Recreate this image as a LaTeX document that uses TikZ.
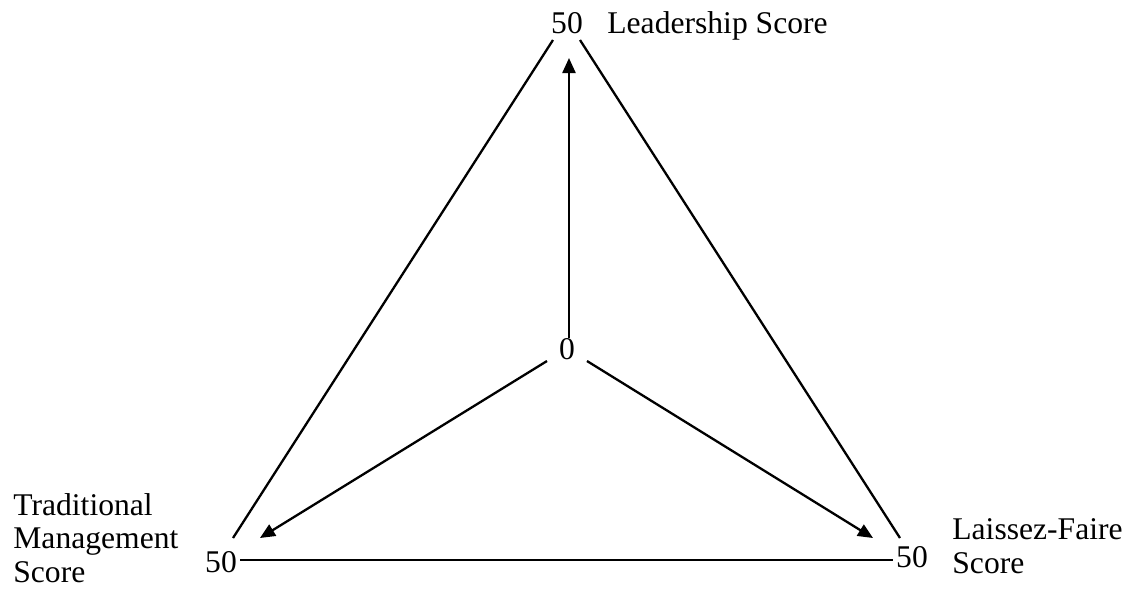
\documentclass[tikz,border=0pt]{standalone}
\usepackage{fontspec}
\setmainfont{Liberation Serif}
\usetikzlibrary{arrows.meta}
\begin{document}
\begin{tikzpicture}[x=0.5pt,y=-0.5pt,
  lbl/.style={inner sep=0pt,font=\fontsize{15.8}{16.6}\selectfont},
  edge/.style={line width=1.15pt},
  arr/.style={line width=1.15pt,-{Triangle[length=7.5pt,width=6.5pt]}}]
\useasboundingbox (0,0) rectangle (1132,590);
% value labels
\node[lbl,anchor=base] (top) at (567,33) {50};
\node[lbl,anchor=base] (ctr) at (567,359) {0};
\node[lbl,anchor=base] (left) at (221,572) {50};
\node[lbl,anchor=base] (right) at (912,567) {50};
% axis titles
\node[lbl,anchor=base west] (lead) at (607,33) {Leadership Score};
\node[lbl,anchor=base west,align=left] (trad) at (13,582) {Traditional\\Management\\Score};
\node[lbl,anchor=base west,align=left] (laf) at (952,573) {Laissez-Faire\\Score};
% triangle end points
\coordinate (tl) at (553,40);
\coordinate (tr) at (580,40);
\coordinate (bl) at (233,538);
\coordinate (br) at (900,538);
\coordinate (lb) at (240,560);
\coordinate (rb) at (893,560);
% arrow ends
\coordinate (c0) at (569,338);
\coordinate (c1) at (547,361);
\coordinate (c2) at (587,361);
\coordinate (t0) at (569,58);
\coordinate (t1) at (260,538);
\coordinate (t2) at (873,538);
% triangle
\draw[edge] (tl) -- (bl);
\draw[edge] (tr) -- (br);
\draw[edge] (lb) -- (rb);
% arrows
\draw[arr] (c0) -- (t0);
\draw[arr] (c1) -- (t1);
\draw[arr] (c2) -- (t2);
\end{tikzpicture}
\end{document}
